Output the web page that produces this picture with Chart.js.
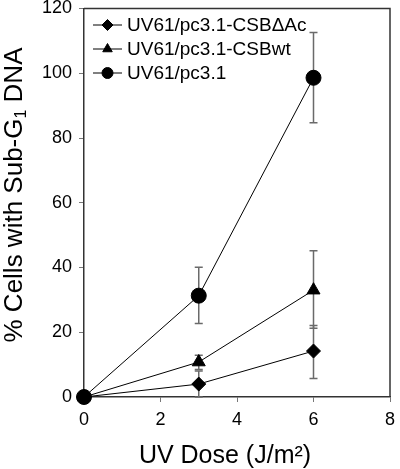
<!DOCTYPE html>
<html><head><meta charset="utf-8">
<script src="https://cdn.jsdelivr.net/npm/chart.js@4.4.0/dist/chart.umd.min.js"></script>
<style>html,body{margin:0;padding:0;background:#fff}#wrap{width:400px;height:469px;position:relative}</style>
</head><body><div id="wrap"><canvas id="c"></canvas></div>
<script>
const doses = [0, 3, 6];
const seriesLabels = ['UV61/pc3.1-CSB\u0394Ac', 'UV61/pc3.1-CSBwt', 'UV61/pc3.1'];
const pointStyles = ['rectRot', 'triangle', 'circle'];
const csbDeltaAc = [0, 4.0, 14.2];
const csbDeltaAcLow = [0, 0, 5.7];
const csbDeltaAcHigh = [0, 8.0, 22.1];
const csbWt = [0, 10.8, 33.0];
const csbWtLow = [0, 8.5, 21.2];
const csbWtHigh = [0, 12.9, 45.2];
const pc31 = [0, 31.3, 98.6];
const pc31Low = [0, 22.7, 84.7];
const pc31High = [0, 40.1, 112.6];
const xTicks = [0, 2, 4, 6, 8];
const yTicks = [0, 20, 40, 60, 80, 100, 120];
const xTitle = 'UV Dose (J/m\u00B2)';
const yTitleParts = ['% Cells with Sub-G', '1', ' DNA'];

const values = [csbDeltaAc, csbWt, pc31];
const lows = [csbDeltaAcLow, csbWtLow, pc31Low];
const highs = [csbDeltaAcHigh, csbWtHigh, pc31High];
const FONT = '"Liberation Sans", Arial, sans-serif';
const radii = [7, 7.5, 7.5];

const errorBars = {
  id: 'errorBars',
  beforeDatasetsDraw(chart) {
    const ctx = chart.ctx, xs = chart.scales.x, ys = chart.scales.y;
    ctx.save();
    ctx.strokeStyle = '#6a6a6a';
    ctx.lineWidth = 1.5;
    values.forEach((v, i) => {
      doses.forEach((d, j) => {
        const x = xs.getPixelForValue(d);
        const y1 = ys.getPixelForValue(lows[i][j]);
        const y2 = ys.getPixelForValue(highs[i][j]);
        if (Math.abs(y1 - y2) < 0.5) return;
        ctx.beginPath();
        ctx.moveTo(x, y1); ctx.lineTo(x, y2);
        ctx.moveTo(x - 4, y1); ctx.lineTo(x + 4, y1);
        ctx.moveTo(x - 4, y2); ctx.lineTo(x + 4, y2);
        ctx.stroke();
      });
    });
    ctx.restore();
  }
};

const frameAndText = {
  id: 'frameAndText',
  afterDraw(chart) {
    const ctx = chart.ctx, a = chart.chartArea;
    ctx.save();
    ctx.strokeStyle = '#333';
    ctx.lineWidth = 1.5;
    ctx.beginPath();
    ctx.moveTo(a.left, a.top); ctx.lineTo(a.right, a.top); ctx.lineTo(a.right, a.bottom);
    ctx.stroke();
    // legend
    ctx.font = '19px ' + FONT;
    ctx.fillStyle = '#000';
    ctx.textBaseline = 'middle';
    ctx.textAlign = 'left';
    seriesLabels.forEach((lab, i) => {
      const y = 25 + 24 * i;
      ctx.strokeStyle = '#000';
      ctx.lineWidth = 1;
      ctx.beginPath(); ctx.moveTo(93, y); ctx.lineTo(122, y); ctx.stroke();
      Chart.helpers.drawPoint(ctx, {pointStyle: pointStyles[i], radius: 5.5, borderWidth: 1, rotation: 0}, 107.5, y);
      ctx.fillStyle = '#000';
      ctx.fillText(lab, 127, y + 1);
    });
    // x title
    ctx.font = '25px ' + FONT;
    ctx.textAlign = 'center';
    ctx.textBaseline = 'alphabetic';
    ctx.fillText(xTitle, 225, 463);
    // y title
    ctx.translate(22, 195);
    ctx.rotate(-Math.PI / 2);
    const big = '26px ' + FONT, small = '16px ' + FONT;
    ctx.font = big; const w0 = ctx.measureText(yTitleParts[0]).width; const w2 = ctx.measureText(yTitleParts[2]).width;
    ctx.font = small; const w1 = ctx.measureText(yTitleParts[1]).width;
    let x = -(w0 + w1 + w2) / 2;
    ctx.textAlign = 'left';
    ctx.font = big; ctx.fillText(yTitleParts[0], x, 0); x += w0;
    ctx.font = small; ctx.fillText(yTitleParts[1], x, 4); x += w1;
    ctx.font = big; ctx.fillText(yTitleParts[2], x, 0);
    ctx.restore();
  }
};

new Chart(document.getElementById('c'), {
  type: 'scatter',
  data: {
    datasets: values.map((v, i) => ({
      label: seriesLabels[i],
      data: doses.map((d, j) => ({x: d, y: v[j]})),
      showLine: true,
      borderColor: '#000',
      borderWidth: 1,
      backgroundColor: '#000',
      pointBackgroundColor: '#000',
      pointBorderColor: '#000',
      pointStyle: pointStyles[i],
      pointRadius: radii[i],
      pointBorderWidth: 1,
      clip: false
    }))
  },
  options: {
    responsive: true,
    maintainAspectRatio: false,
    animation: false,
    layout: {padding: {top: 7, right: 10, left: 0, bottom: 0}},
    plugins: {legend: {display: false}, tooltip: {enabled: false}},
    scales: {
      x: {
        type: 'linear', min: 0, max: 8,
        afterBuildTicks: s => { s.ticks = xTicks.map(v => ({value: v})); },
        afterFit: s => { s.height = 72; s.paddingLeft = 0; s.paddingRight = 0; },
        grid: {drawOnChartArea: false, drawTicks: true, tickLength: 5, color: '#777', lineWidth: 1},
        border: {color: '#333', width: 1.5},
        ticks: {font: {size: 18, family: FONT}, color: '#000', padding: 7, maxRotation: 0}
      },
      y: {
        min: 0, max: 120,
        afterBuildTicks: s => { s.ticks = yTicks.map(v => ({value: v})); },
        afterFit: s => { s.width = 84; s.paddingTop = 0; s.paddingBottom = 0; },
        grid: {drawOnChartArea: false, drawTicks: true, tickLength: 5, color: '#777', lineWidth: 1},
        border: {color: '#333', width: 1.5},
        ticks: {font: {size: 18, family: FONT}, color: '#000', padding: 7}
      }
    }
  },
  plugins: [errorBars, frameAndText]
});
</script>
</body></html>
